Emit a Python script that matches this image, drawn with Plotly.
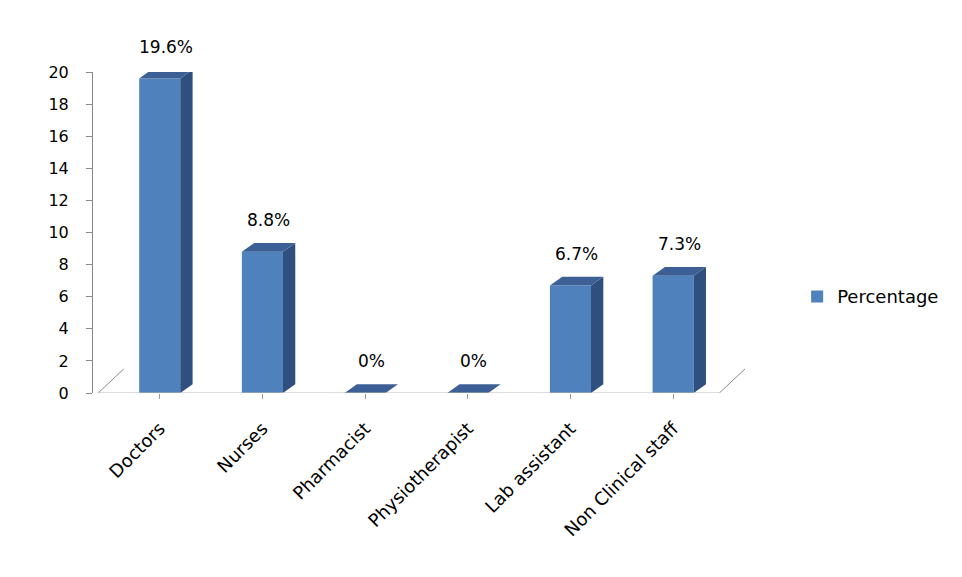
import plotly.graph_objects as go

categories = ["Doctors", "Nurses", "Pharmacist", "Physiotherapist", "Lab assistant", "Non Clinical staff"]
values = [19.6, 8.8, 0, 0, 6.7, 7.3]
labels = ["19.6%", "8.8%", "0%", "0%", "6.7%", "7.3%"]
y_ticks = [0, 2, 4, 6, 8, 10, 12, 14, 16, 18, 20]
series_name = "Percentage"

FRONT = "#4F81BD"
SIDE = "#2F4F7F"
TOP = "#3C6096"
FONT = "DejaVu Sans, Liberation Sans, Arial, sans-serif"

hw = 0.2    # half width of a bar (category units)
dx = 0.12   # depth offset x
dy = 0.55   # depth offset y
y_max = 20

fig = go.Figure()

xs = list(range(len(categories)))
fig.add_trace(go.Bar(x=xs, y=values, width=2 * hw, marker=dict(color=FRONT, line=dict(width=0)),
                     name=series_name, showlegend=True))

for i, v in enumerate(values):
    x0, x1 = i - hw, i + hw
    fig.add_trace(go.Scatter(x=[x1, x1 + dx, x1 + dx, x1, x1], y=[0, dy, v + dy, v, 0],
                             fill="toself", fillcolor=SIDE, mode="lines", line=dict(width=0),
                             showlegend=False, hoverinfo="skip"))
    fig.add_trace(go.Scatter(x=[x0, x1, x1 + dx, x0 + dx, x0], y=[v, v, v + dy, v + dy, v],
                             fill="toself", fillcolor=TOP, mode="lines", line=dict(width=0),
                             showlegend=False, hoverinfo="skip"))
    fig.add_annotation(x=i + dx / 2, xref="x", y=(v + dy) / y_max, yref="paper",
                       text=labels[i], showarrow=False, yanchor="bottom", yshift=11,
                       font=dict(size=17, color="#000", family=FONT))

n = len(categories)
x_lo, x_hi = -0.65, n - 0.3
floor_l, floor_r = -0.6, n - 0.55
depth_x = 0.25
for x in (floor_l, floor_r):
    fig.add_shape(type="line", xref="x", yref="y", x0=x, y0=0, x1=x + depth_x, y1=1.5,
                  line=dict(color="#888", width=1))
fig.add_shape(type="line", xref="x", yref="y", x0=floor_l, y0=0, x1=floor_r, y1=0,
              line=dict(color="#bbb", width=1))

fig.update_layout(
    width=962, height=577,
    margin=dict(l=93, r=217, t=72, b=184),
    plot_bgcolor="white", paper_bgcolor="white",
    font=dict(family=FONT, size=16, color="#000"),
    showlegend=True,
    legend=dict(x=1.08, y=0.30, xanchor="left", yanchor="middle", font=dict(size=18),
                bgcolor="rgba(0,0,0,0)"),
    xaxis=dict(range=[x_lo, x_hi], tickvals=xs, ticktext=categories, tickangle=-45,
               showgrid=False, zeroline=False, showline=False, ticks="outside",
               ticklen=5, tickcolor="#999", tickfont=dict(size=18), ticklabelstandoff=12),
    yaxis=dict(range=[0, y_max], tickvals=y_ticks, showgrid=False, zeroline=False,
               showline=True, linecolor="#888", ticks="outside", ticklen=6,
               tickcolor="#888", tickfont=dict(size=16), ticklabelstandoff=14),
)

fig.write_html("out.html")
